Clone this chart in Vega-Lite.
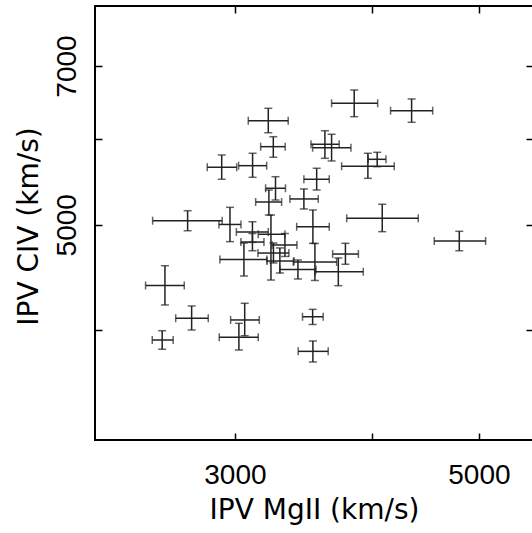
{
  "$schema": "https://vega.github.io/schema/vega-lite/v6.json",
  "autosize": {"type": "none"},
  "padding": {"left": 95, "top": 6, "right": 0, "bottom": 93},
  "width": 438,
  "height": 434,
  "background": "white",
  "config": {
    "view": {"stroke": "black", "strokeWidth": 2},
    "axis": {
      "labelFont": "Liberation Sans", "labelFontSize": 28, "labelColor": "black",
      "titleFont": "DejaVu Sans", "titleFontSize": 28, "titleFontWeight": "normal", "titleColor": "black",
      "grid": false, "domain": false, "tickColor": "black", "tickWidth": 1.5, "labelOverlap": false, "labelFlush": false
    }
  },
  "data": {"values": [
    {"x": 3217, "xlo": 3085, "xhi": 3354, "y": 6234, "ylo": 6077, "yhi": 6400},
    {"x": 3251, "xlo": 3166, "xhi": 3333, "y": 5900, "ylo": 5769, "yhi": 6026},
    {"x": 2918, "xlo": 2831, "xhi": 3011, "y": 5648, "ylo": 5506, "yhi": 5797},
    {"x": 3113, "xlo": 3023, "xhi": 3206, "y": 5667, "ylo": 5529, "yhi": 5818},
    {"x": 3560, "xlo": 3466, "xhi": 3655, "y": 5506, "ylo": 5382, "yhi": 5636},
    {"x": 3266, "xlo": 3199, "xhi": 3335, "y": 5402, "ylo": 5269, "yhi": 5536},
    {"x": 3221, "xlo": 3133, "xhi": 3308, "y": 5247, "ylo": 5104, "yhi": 5382},
    {"x": 3466, "xlo": 3366, "xhi": 3572, "y": 5281, "ylo": 5170, "yhi": 5394},
    {"x": 2717, "xlo": 2525, "xhi": 2921, "y": 5043, "ylo": 4937, "yhi": 5151},
    {"x": 2969, "xlo": 2901, "xhi": 3038, "y": 5003, "ylo": 4824, "yhi": 5188},
    {"x": 3532, "xlo": 3414, "xhi": 3655, "y": 4979, "ylo": 4807, "yhi": 5159},
    {"x": 3851, "xlo": 3673, "xhi": 4045, "y": 6468, "ylo": 6287, "yhi": 6653},
    {"x": 4343, "xlo": 4156, "xhi": 4539, "y": 6368, "ylo": 6213, "yhi": 6528},
    {"x": 3622, "xlo": 3518, "xhi": 3732, "y": 5930, "ylo": 5756, "yhi": 6103},
    {"x": 3673, "xlo": 3530, "xhi": 3825, "y": 5887, "ylo": 5724, "yhi": 6057},
    {"x": 4041, "xlo": 3966, "xhi": 4116, "y": 5744, "ylo": 5655, "yhi": 5830},
    {"x": 3963, "xlo": 3751, "xhi": 4188, "y": 5660, "ylo": 5517, "yhi": 5818},
    {"x": 4084, "xlo": 3791, "xhi": 4404, "y": 5069, "ylo": 4927, "yhi": 5222},
    {"x": 4799, "xlo": 4554, "xhi": 5071, "y": 4831, "ylo": 4732, "yhi": 4931},
    {"x": 3781, "xlo": 3681, "xhi": 3885, "y": 4699, "ylo": 4598, "yhi": 4807},
    {"x": 3725, "xlo": 3547, "xhi": 3925, "y": 4526, "ylo": 4394, "yhi": 4660},
    {"x": 3547, "xlo": 3390, "xhi": 3712, "y": 4620, "ylo": 4443, "yhi": 4805},
    {"x": 3112, "xlo": 3009, "xhi": 3217, "y": 4924, "ylo": 4817, "yhi": 5032},
    {"x": 3112, "xlo": 3038, "xhi": 3188, "y": 4820, "ylo": 4732, "yhi": 4908},
    {"x": 3057, "xlo": 2907, "xhi": 3208, "y": 4645, "ylo": 4485, "yhi": 4810},
    {"x": 3235, "xlo": 3150, "xhi": 3331, "y": 4900, "ylo": 4447, "yhi": 5104},
    {"x": 3331, "xlo": 3242, "xhi": 3416, "y": 4790, "ylo": 4675, "yhi": 4908},
    {"x": 3252, "xlo": 3148, "xhi": 3359, "y": 4709, "ylo": 4611, "yhi": 4810},
    {"x": 3296, "xlo": 3208, "xhi": 3395, "y": 4630, "ylo": 4514, "yhi": 4760},
    {"x": 3423, "xlo": 3296, "xhi": 3555, "y": 4547, "ylo": 4457, "yhi": 4640},
    {"x": 2591, "xlo": 2488, "xhi": 2698, "y": 4396, "ylo": 4218, "yhi": 4584},
    {"x": 2740, "xlo": 2650, "xhi": 2837, "y": 4101, "ylo": 4000, "yhi": 4209},
    {"x": 2576, "xlo": 2523, "xhi": 2636, "y": 3916, "ylo": 3840, "yhi": 3994},
    {"x": 3062, "xlo": 2973, "xhi": 3157, "y": 4086, "ylo": 3952, "yhi": 4233},
    {"x": 3025, "xlo": 2903, "xhi": 3150, "y": 3939, "ylo": 3834, "yhi": 4057},
    {"x": 3530, "xlo": 3456, "xhi": 3609, "y": 4114, "ylo": 4047, "yhi": 4179},
    {"x": 3532, "xlo": 3425, "xhi": 3647, "y": 3823, "ylo": 3738, "yhi": 3908}
  ]},
  "resolve": {"axis": {"x": "independent", "y": "independent"}},
  "layer": [
    {
      "mark": {"type": "rule", "color": "#222", "strokeWidth": 1.5},
      "encoding": {
        "x": {"field": "xlo", "type": "quantitative",
              "scale": {"type": "log", "domain": [2238, 5600], "nice": false, "zero": false},
              "axis": {"orient": "bottom", "values": [3000, 4000, 5000], "format": "d",
                       "labelExpr": "datum.value == 4000 ? '' : datum.label",
                       "ticks": false, "labelPadding": 43, "labelBaseline": "alphabetic",
                       "title": "IPV MgII (km/s)", "titleX": 219, "titleY": 78, "titleBaseline": "alphabetic"}},
        "x2": {"field": "xhi"},
        "y": {"field": "y", "type": "quantitative",
              "scale": {"type": "log", "domain": [3168, 7950], "nice": false, "zero": false},
              "axis": {"orient": "left", "values": [4000, 5000, 6000, 7000], "format": "d",
                       "labelExpr": "datum.value == 5000 || datum.value == 7000 ? datum.label : ''",
                       "ticks": false, "labelPadding": 20, "labelAngle": -90, "labelAlign": "center", "labelBaseline": "alphabetic",
                       "title": "IPV CIV (km/s)", "titleX": -58, "titleY": 220, "titleAngle": -90, "titleBaseline": "alphabetic"}}
      }
    },
    {
      "mark": {"type": "rule", "color": "#222", "strokeWidth": 1.5},
      "encoding": {
        "x": {"field": "x", "type": "quantitative",
              "scale": {"type": "log", "domain": [2238, 5600], "nice": false, "zero": false},
              "axis": {"orient": "top", "values": [3000, 4000, 5000], "labels": false, "tickSize": -7, "title": null}},
        "y": {"field": "ylo", "type": "quantitative",
              "scale": {"type": "log", "domain": [3168, 7950], "nice": false, "zero": false},
              "axis": {"orient": "right", "values": [4000, 5000, 6000, 7000], "labels": false, "tickSize": -7, "title": null}},
        "y2": {"field": "yhi"}
      }
    },
    {
      "mark": {"type": "tick", "orient": "vertical", "color": "#222", "size": 8, "thickness": 1.5},
      "encoding": {
        "x": {"field": "xlo", "type": "quantitative",
              "axis": {"orient": "bottom", "values": [3000, 4000, 5000], "labels": false, "tickSize": -7, "title": null}},
        "y": {"field": "y", "type": "quantitative",
              "axis": {"orient": "left", "values": [4000, 5000, 6000, 7000], "labels": false, "tickSize": -7, "title": null}}
      }
    },
    {
      "mark": {"type": "tick", "orient": "vertical", "color": "#222", "size": 8, "thickness": 1.5},
      "encoding": {
        "x": {"field": "xhi", "type": "quantitative", "axis": null},
        "y": {"field": "y", "type": "quantitative", "axis": null}
      }
    },
    {
      "mark": {"type": "tick", "orient": "horizontal", "color": "#222", "size": 8, "thickness": 1.5},
      "encoding": {
        "x": {"field": "x", "type": "quantitative", "axis": null},
        "y": {"field": "ylo", "type": "quantitative", "axis": null}
      }
    },
    {
      "mark": {"type": "tick", "orient": "horizontal", "color": "#222", "size": 8, "thickness": 1.5},
      "encoding": {
        "x": {"field": "x", "type": "quantitative", "axis": null},
        "y": {"field": "yhi", "type": "quantitative", "axis": null}
      }
    }
  ]
}
